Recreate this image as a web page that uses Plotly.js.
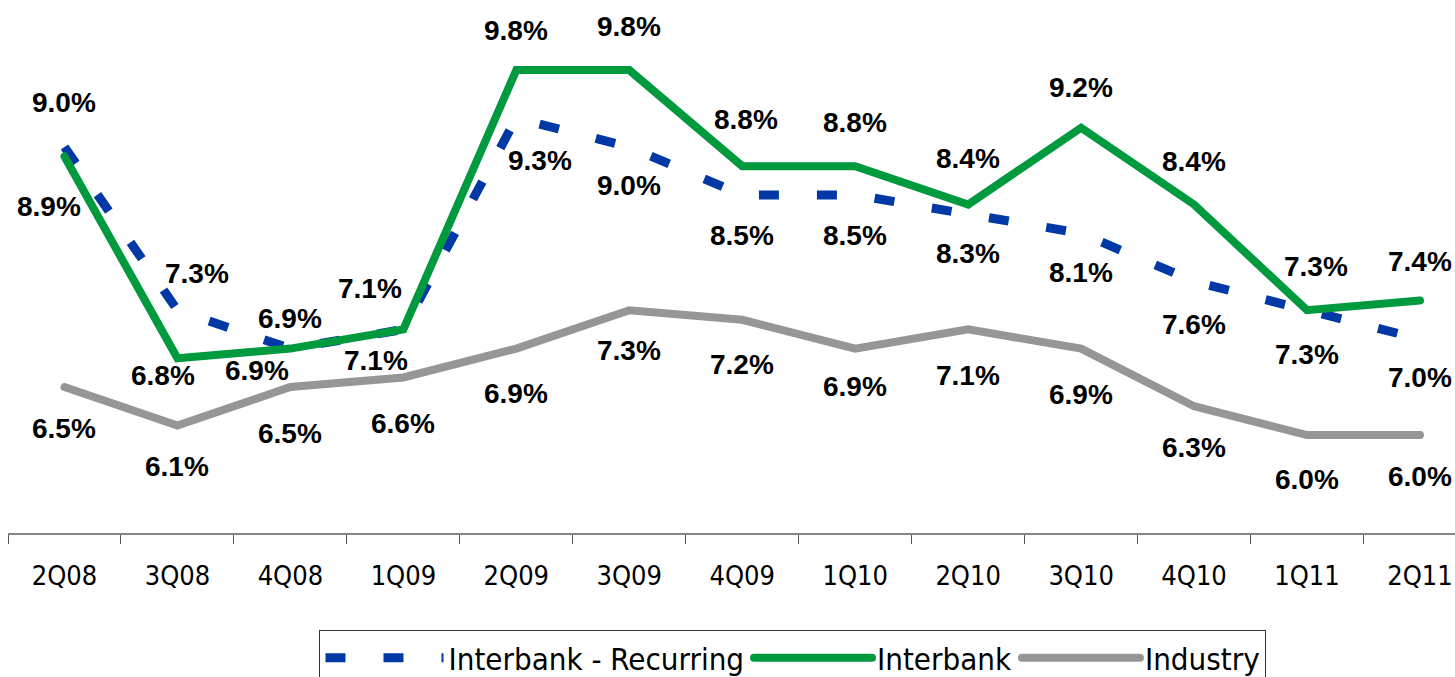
<!DOCTYPE html>
<html>
<head>
<meta charset="utf-8">
<script src="https://cdn.plot.ly/plotly-3.0.1.min.js"></script>
<style>
  html, body { margin: 0; padding: 0; background: #ffffff; }
  #chart { width: 1455px; height: 677px; }
  .scatterlayer .trace:nth-child(2) path.js-line,
  .scatterlayer .trace:nth-child(3) path.js-line,
  .legend .traces:nth-child(2) path.js-line,
  .legend .traces:nth-child(3) path.js-line { stroke-linecap: round; }
</style>
</head>
<body>
<div id="chart"></div>
<script>
// ---- data ----
var quarters = ["2Q08","3Q08","4Q08","1Q09","2Q09","3Q09","4Q09","1Q10","2Q10","3Q10","4Q10","1Q11","2Q11"];
var recurring = [9.0, 7.3, 6.9, 7.1, 9.3, 9.0, 8.5, 8.5, 8.3, 8.1, 7.6, 7.3, 7.0];
var interbank = [8.9, 6.8, 6.9, 7.1, 9.8, 9.8, 8.8, 8.8, 8.4, 9.2, 8.4, 7.3, 7.4];
var industry  = [6.5, 6.1, 6.5, 6.6, 6.9, 7.3, 7.2, 6.9, 7.1, 6.9, 6.3, 6.0, 6.0];
var seriesNames = ["Interbank - Recurring", "Interbank", "Industry"];

// ---- label placement (pixel offsets, style only) ----
var recYShift = [44, 37, 30, 41, -42, -39, -41, -41, -39, -39, -43, -44, -38];
var recXShift = [0, 20, 0, -33, 24, 0, 0, 0, 0, 0, 0, 0, 0];
var ibYShift  = [-50, -17, -22, -31, 40, 44, 47, 44, 46, 40, 43, 44, 39];
var ibXShift  = [-15, -14, -33, -27, 0, 0, 4, 0, 0, 0, 0, 9, 0];
var indYShift = [-41, -41, -46, -46, -45, -40, -45, -38, -46, -46, -41, -44, -41];
var indXShift = [0, 0, 0, 0, 0, 0, 0, 0, 0, 0, 0, 0, 0];

var colors = { rec: "#0039A6", ib: "#009A3E", ind: "#969696" };

var traces = [
  { x: quarters, y: recurring, name: seriesNames[0], type: "scatter", mode: "lines",
    line: { color: colors.rec, width: 9, dash: "20px,38px" }, hoverinfo: "skip" },
  { x: quarters, y: interbank, name: seriesNames[1], type: "scatter", mode: "lines",
    line: { color: colors.ib, width: 8 }, hoverinfo: "skip" },
  { x: quarters, y: industry, name: seriesNames[2], type: "scatter", mode: "lines",
    line: { color: colors.ind, width: 8 }, hoverinfo: "skip" }
];

var labelFont = { family: "Liberation Sans, Arial, sans-serif", size: 28, color: "#000000", weight: "bold" };
function makeLabels(vals, ys, xs) {
  return vals.map(function (v, i) {
    return { x: quarters[i], y: v, xref: "x", yref: "y", text: "<b>" + v.toFixed(1) + "%</b>",
      showarrow: false, yshift: ys[i], xshift: xs[i], font: labelFont };
  });
}
var annotations = [].concat(
  makeLabels(recurring, recYShift, recXShift),
  makeLabels(interbank, ibYShift, ibXShift),
  makeLabels(industry, indYShift, indXShift)
);

var axisFont = { family: "DejaVu Sans Condensed, DejaVu Sans, sans-serif", size: 27, color: "#000000" };
var legendFont = { family: "DejaVu Sans Condensed, DejaVu Sans, sans-serif", size: 31, color: "#000000" };

var layout = {
  width: 1455, height: 677,
  margin: { l: 8, r: 0, t: 0, b: 144, autoexpand: false },
  paper_bgcolor: "#ffffff", plot_bgcolor: "#ffffff",
  showlegend: true,
  xaxis: {
    type: "category", range: [-0.5, 12.31],
    showline: true, linecolor: "#868686", linewidth: 2,
    ticks: "outside", tickson: "boundaries", ticklen: 9, tickcolor: "#555555", tickwidth: 1,
    showgrid: false, zeroline: false, tickfont: axisFont, ticklabelstandoff: 18
  },
  yaxis: {
    range: [4.98, 10.53], visible: false, showgrid: false, zeroline: false
  },
  legend: {
    orientation: "h", x: 0.5425, xanchor: "center", y: -0.182, yanchor: "top",
    bordercolor: "#333333", borderwidth: 1, font: legendFont, itemwidth: 118,
    tracegroupgap: 0
  },
  annotations: annotations
};

Plotly.newPlot("chart", traces, layout, { staticPlot: true, displayModeBar: false });
</script>
</body>
</html>
